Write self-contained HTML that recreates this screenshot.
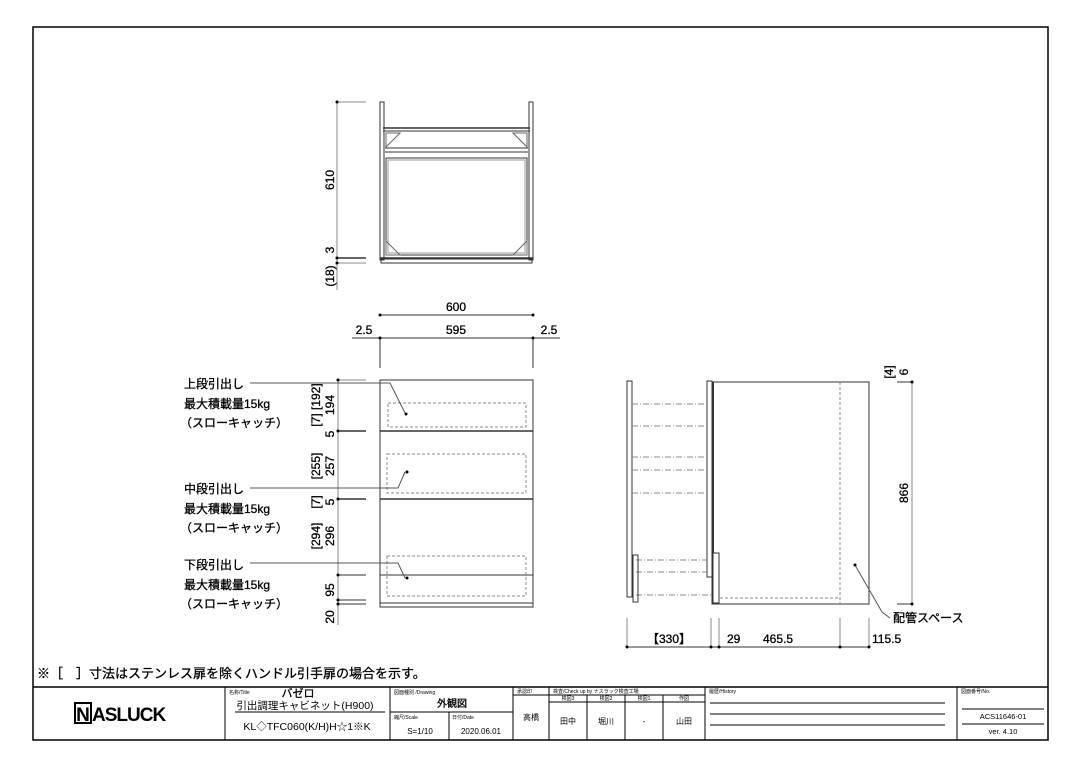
<!DOCTYPE html>
<html><head><meta charset="utf-8"><style>
body{margin:0;background:#fff;}
svg{display:block;font-family:"Liberation Sans","Noto Sans CJK JP",sans-serif;}
.lb{stroke:#000;stroke-width:0.3;}
</style></head><body>
<svg width="1080" height="764" viewBox="0 0 1080 764" xmlns="http://www.w3.org/2000/svg">
<rect x="0" y="0" width="1080" height="764" fill="#fff"/>
<rect x="33" y="27" width="1015" height="713" fill="none" stroke="#000" stroke-width="1.5"/>

<!-- TOP VIEW -->
<g stroke="#333" fill="none" stroke-width="1">
<line x1="337" y1="102" x2="366" y2="102" stroke="#888"/>
<line x1="337" y1="102" x2="337" y2="290" stroke="#888"/>
<line x1="337" y1="258" x2="366" y2="258" stroke-width="1.5"/>
<line x1="337" y1="263" x2="366" y2="263" stroke="#888"/>
<rect x="380" y="102" width="4" height="158"/>
<rect x="529" y="102" width="4" height="158"/>
<line x1="383" y1="128" x2="530" y2="128" stroke-width="1.5"/>
<line x1="383" y1="131" x2="530" y2="131"/>
<line x1="385" y1="148" x2="528" y2="148"/>
<line x1="385" y1="152" x2="528" y2="152"/>
<rect x="386" y="158" width="141" height="97"/>
<rect x="388" y="160" width="137" height="93" stroke="#999"/>
<line x1="380" y1="258" x2="533" y2="258" stroke-width="1.5"/>
<rect x="381" y="259" width="151" height="4"/>
<path d="M386 133 L400 133 L386 147 Z M527 133 L513 133 L527 147 Z M386 255 L400 255 L386 241 Z M527 255 L513 255 L527 241 Z" stroke="#666"/>
</g>
<g fill="#000"><circle cx="337" cy="102" r="1.5"/><circle cx="337" cy="258" r="1.5"/><circle cx="337" cy="263" r="1.5"/></g>
<g font-size="12" fill="#000" class="lb">
<text transform="translate(334,180) rotate(-90)" text-anchor="middle">610</text>
<text transform="translate(334,250) rotate(-90)" text-anchor="middle">3</text>
<text transform="translate(334,276) rotate(-90)" text-anchor="middle">(18)</text>
</g>

<!-- FRONT VIEW -->
<g stroke="#333" fill="none" stroke-width="1">
<line x1="380" y1="315" x2="533" y2="315"/>
<line x1="352" y1="338" x2="560" y2="338"/>
<line x1="380" y1="338" x2="380" y2="368"/>
<line x1="533" y1="338" x2="533" y2="368"/>
<line x1="338" y1="380" x2="338" y2="625" stroke="#888"/>
<line x1="338" y1="380" x2="366" y2="380" stroke="#888"/>
<line x1="338" y1="431" x2="366" y2="431" stroke-width="1.5"/>
<line x1="338" y1="499" x2="366" y2="499" stroke-width="1.5"/>
<line x1="338" y1="575" x2="366" y2="575"/>
<line x1="338" y1="600" x2="366" y2="600"/>
<line x1="338" y1="604" x2="366" y2="604"/>
<rect x="380" y="380" width="153" height="227"/>
<line x1="380" y1="431" x2="533" y2="431" stroke-width="1.5"/>
<line x1="380" y1="499" x2="533" y2="499" stroke-width="1.5"/>
<line x1="380" y1="575" x2="533" y2="575"/>
<line x1="380" y1="603" x2="533" y2="603"/>
<g stroke="#888" stroke-dasharray="3,2">
<rect x="388" y="403" width="138" height="24"/>
<rect x="387" y="454" width="139" height="39"/>
<rect x="387" y="556" width="139" height="40"/>
</g>
<g stroke="#555">
<polyline points="250,383 390,383 405,413"/>
<polyline points="250,488 398,488 405,472"/>
<polyline points="250,563 398,563 405,578"/>
</g>
</g>
<g fill="#000">
<circle cx="380" cy="315" r="1.5"/><circle cx="533" cy="315" r="1.5"/><circle cx="380" cy="338" r="1.5"/><circle cx="533" cy="338" r="1.5"/>
<circle cx="338" cy="380" r="1.5"/><circle cx="338" cy="431" r="1.5"/><circle cx="338" cy="499" r="1.5"/><circle cx="338" cy="575" r="1.5"/><circle cx="338" cy="600" r="1.5"/><circle cx="338" cy="604" r="1.5"/>
<circle cx="406" cy="414" r="1.5"/><circle cx="407" cy="472" r="1.5"/><circle cx="407" cy="578" r="1.5"/>
</g>
<g font-size="12" fill="#000" class="lb">
<text x="456" y="311" text-anchor="middle">600</text>
<text x="456" y="334" text-anchor="middle">595</text>
<text x="364" y="334" text-anchor="middle">2.5</text>
<text x="549" y="334" text-anchor="middle">2.5</text>
<text transform="translate(334,405) rotate(-90)" text-anchor="middle">194</text>
<text transform="translate(320,405) rotate(-90)" text-anchor="middle">[7] [192]</text>
<text transform="translate(334,434) rotate(-90)" text-anchor="middle">5</text>
<text transform="translate(334,466) rotate(-90)" text-anchor="middle">257</text>
<text transform="translate(320,466) rotate(-90)" text-anchor="middle">[255]</text>
<text transform="translate(334,502) rotate(-90)" text-anchor="middle">5</text>
<text transform="translate(320,502) rotate(-90)" text-anchor="middle">[7]</text>
<text transform="translate(334,536) rotate(-90)" text-anchor="middle">296</text>
<text transform="translate(320,536) rotate(-90)" text-anchor="middle">[294]</text>
<text transform="translate(334,590) rotate(-90)" text-anchor="middle">95</text>
<text transform="translate(334,617) rotate(-90)" text-anchor="middle">20</text>
<text x="184" y="388">上段引出し</text><text x="184" y="408">最大積載量15kg</text><text x="180" y="427">（スローキャッチ）</text>
<text x="184" y="493">中段引出し</text><text x="184" y="513">最大積載量15kg</text><text x="180" y="532">（スローキャッチ）</text>
<text x="184" y="569">下段引出し</text><text x="184" y="589">最大積載量15kg</text><text x="180" y="608">（スローキャッチ）</text>
</g>

<!-- SIDE VIEW -->
<g stroke="#333" fill="none" stroke-width="1">
<rect x="712" y="382" width="157" height="222"/>
<line x1="713" y1="382" x2="713" y2="553" stroke-width="2"/>
<rect x="707" y="381" width="5" height="196"/>
<rect x="627" y="381" width="5" height="216"/>
<rect x="713" y="553" width="6" height="50"/>
<line x1="840" y1="382" x2="840" y2="604" stroke="#888" stroke-dasharray="3,2"/>
<line x1="720" y1="598" x2="840" y2="598" stroke="#888" stroke-dasharray="3,2"/>
<g stroke="#888" stroke-dasharray="6,2,1,2">
<line x1="632" y1="404" x2="707" y2="404"/>
<line x1="632" y1="426" x2="707" y2="426"/>
<line x1="632" y1="457" x2="707" y2="457"/>
<line x1="632" y1="470" x2="707" y2="470"/>
<line x1="632" y1="493" x2="707" y2="493"/>
<line x1="636" y1="560" x2="707" y2="560"/>
<line x1="636" y1="572" x2="707" y2="572"/>
<line x1="636" y1="595" x2="712" y2="595"/>
</g>
<rect x="633" y="555" width="5" height="47"/>
<line x1="912" y1="382" x2="912" y2="604" stroke="#888"/>
<line x1="897" y1="382" x2="912" y2="382"/>
<line x1="897" y1="604" x2="912" y2="604"/>
<line x1="627" y1="647" x2="870" y2="647"/>
<line x1="627" y1="618" x2="627" y2="647" stroke="#888"/>
<line x1="711" y1="618" x2="711" y2="647" stroke="#888"/>
<line x1="719" y1="618" x2="719" y2="647" stroke="#888"/>
<line x1="840" y1="618" x2="840" y2="647" stroke="#888"/>
<line x1="869" y1="618" x2="869" y2="647" stroke="#888"/>
<polyline points="855,565 882,612 890,618" stroke="#555"/>
</g>
<g fill="#000">
<circle cx="912" cy="382" r="1.5"/><circle cx="912" cy="604" r="1.5"/><circle cx="855" cy="565" r="1.5"/>
<circle cx="627" cy="647" r="1.5"/><circle cx="711" cy="647" r="1.5"/><circle cx="719" cy="647" r="1.5"/><circle cx="840" cy="647" r="1.5"/><circle cx="869" cy="647" r="1.5"/>
</g>
<g font-size="12" fill="#000" class="lb">
<text transform="translate(908,493) rotate(-90)" text-anchor="middle">866</text>
<text transform="translate(908,372) rotate(-90)" text-anchor="middle">6</text>
<text transform="translate(893,372) rotate(-90)" text-anchor="middle">[4]</text>
<text x="669" y="643" text-anchor="middle">【330】</text>
<text x="727" y="643">29</text>
<text x="763" y="643">465.5</text>
<text x="872" y="643">115.5</text>
<text x="893" y="622">配管スペース</text>
</g>

<!-- NOTE -->
<text x="37" y="678" font-size="13" fill="#000" class="lb">※［　］寸法はステンレス扉を除くハンドル引手扉の場合を示す。</text>

<!-- TITLE BLOCK -->
<g stroke="#000" fill="none" stroke-width="1">
<line x1="33" y1="687" x2="1048" y2="687" stroke-width="1.5"/>
<line x1="225" y1="687" x2="225" y2="740"/>
<line x1="390" y1="687" x2="390" y2="740"/>
<line x1="513" y1="687" x2="513" y2="740"/>
<line x1="549" y1="687" x2="549" y2="740"/>
<line x1="705" y1="687" x2="705" y2="740"/>
<line x1="957" y1="687" x2="957" y2="740"/>
<line x1="235" y1="712" x2="385" y2="712"/>
<line x1="390" y1="712" x2="513" y2="712"/>
<line x1="449" y1="712" x2="449" y2="740"/>
<line x1="513" y1="695" x2="705" y2="695"/>
<line x1="549" y1="702" x2="705" y2="702"/>
<line x1="587" y1="695" x2="587" y2="740"/>
<line x1="625" y1="695" x2="625" y2="740"/>
<line x1="663" y1="695" x2="663" y2="740"/>
<line x1="710" y1="703" x2="945" y2="703"/>
<line x1="710" y1="714" x2="945" y2="714"/>
<line x1="710" y1="725" x2="945" y2="725"/>
<line x1="962" y1="709" x2="1044" y2="709"/>
<line x1="962" y1="724" x2="1044" y2="724"/>
<rect x="75" y="703" width="16" height="20" stroke-width="2"/>
</g>
<g fill="#000">
<text x="83" y="721" font-size="19" font-weight="bold" text-anchor="middle">N</text>
<text x="92" y="721" font-size="19" font-weight="bold" letter-spacing="-1">ASLUCK</text>
<text x="229" y="694" font-size="5">名称/Title</text>
<text x="298" y="697" font-size="11" text-anchor="middle" class="lb">バゼロ</text>
<text x="305" y="709" font-size="10.5" text-anchor="middle">引出調理キャビネット(H900)</text>
<text x="307" y="730" font-size="10.5" text-anchor="middle">KL◇TFC060(K/H)H☆1※K</text>
<text x="394" y="694" font-size="5">図面種別 /Drawing</text>
<text x="452" y="707" font-size="10" text-anchor="middle" class="lb">外観図</text>
<text x="394" y="719" font-size="5">縮尺/Scale</text>
<text x="452" y="719" font-size="5">日付/Date</text>
<text x="420" y="734" font-size="8" text-anchor="middle">S=1/10</text>
<text x="481" y="734" font-size="8" text-anchor="middle">2020.06.01</text>
<text x="517" y="693" font-size="5">承認印</text>
<text x="531" y="720" font-size="8" text-anchor="middle">高橋</text>
<text x="553" y="693" font-size="5">検査/Check up by ナスラック検査工場</text>
<text x="568" y="700" font-size="5" text-anchor="middle">検図3</text>
<text x="606" y="700" font-size="5" text-anchor="middle">検図2</text>
<text x="644" y="700" font-size="5" text-anchor="middle">検図1</text>
<text x="684" y="700" font-size="5" text-anchor="middle">作図</text>
<text x="568" y="724" font-size="8" text-anchor="middle">田中</text>
<text x="606" y="724" font-size="8" text-anchor="middle">堀川</text>
<text x="644" y="724" font-size="8" text-anchor="middle">-</text>
<text x="684" y="724" font-size="8" text-anchor="middle">山田</text>
<text x="709" y="693" font-size="5">履歴/History</text>
<text x="961" y="693" font-size="5">図面番号/No.</text>
<text x="1003" y="719" font-size="7.5" text-anchor="middle">ACS11646-01</text>
<text x="1003" y="734" font-size="7.5" text-anchor="middle">ver. 4.10</text>
</g>
</svg>
</body></html>
